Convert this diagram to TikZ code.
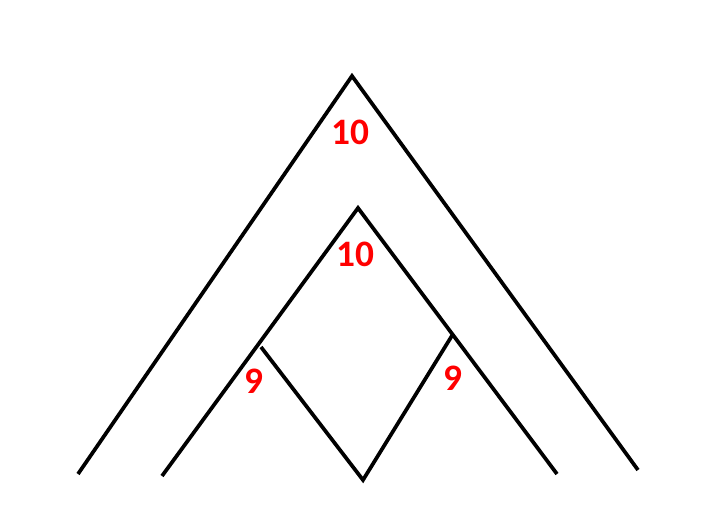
\documentclass[tikz,border=0pt]{standalone}
\usepackage{fontspec}
\setmainfont{Carlito}
\begin{document}
\begin{tikzpicture}[x=0.75pt,y=-0.75pt,
  edge/.style={line width=2.8pt,black,line cap=butt,line join=miter},
  lbl/.style={text=red,font=\bfseries\fontsize{28}{32}\selectfont,inner sep=0pt}]
\useasboundingbox (0,0) rectangle (711,515);
\coordinate (oL) at (78,474);
\coordinate (oT) at (352,76);
\coordinate (oR) at (638,470);
\coordinate (iL) at (162,476);
\coordinate (iT) at (358,208);
\coordinate (iR) at (557,474);
\coordinate (a) at (261,347);
\coordinate (b) at (363,480);
\coordinate (c) at (453,334);
\draw[edge] (oL) -- (oT) -- (oR);
\draw[edge] (iL) -- (iT) -- (iR);
\draw[edge] (a) -- (b) -- (c);
\node[lbl] (l1) at (350,132) {10};
\node[lbl] (l2) at (355,254) {10};
\node[lbl] (l3) at (254,381) {9};
\node[lbl] (l4) at (453,378) {9};
\end{tikzpicture}
\end{document}
